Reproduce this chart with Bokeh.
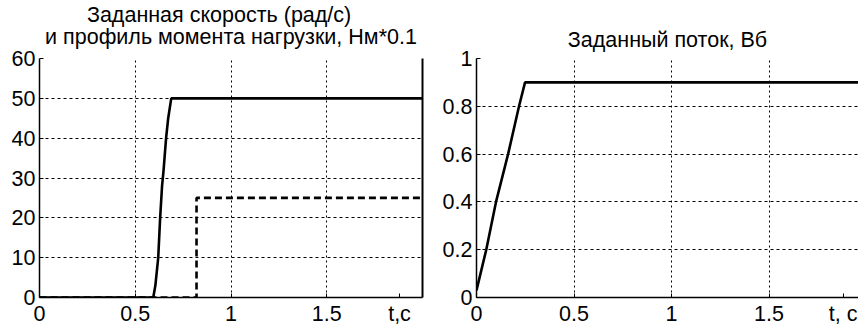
from bokeh.plotting import figure
from bokeh.layouts import row
from bokeh.models import FixedTicker, Range1d, Title, LinearAxis
from bokeh.embed import file_html
from bokeh.resources import INLINE

# ---- data ----
speed_t = [0.0, 0.594, 0.605, 0.62, 0.63, 0.64, 0.648, 0.661, 0.672, 0.688, 2.0]
speed_v = [0, 0, 3, 10, 20, 28, 32, 40, 45, 50, 50]
load_t = [0.0, 0.82, 0.82, 2.0]
load_v = [0, 0, 25, 25]
flux_t = [0.0, 0.05, 0.1, 0.162, 0.218, 0.249, 2.0]
flux_v = [0.03, 0.2, 0.4, 0.6, 0.8, 0.9, 0.9]

x_ticks = [0, 0.5, 1, 1.5]
x_labels = ["0", "0.5", "1", "1.5"]
left_y_ticks = [0, 10, 20, 30, 40, 50, 60]
right_y_ticks = [0, 0.2, 0.4, 0.6, 0.8, 1.0]
right_y_labels = ["0", "0.2", "0.4", "0.6", "0.8", "1"]

left_title = ["Заданная скорость (рад/с)", "и профиль момента нагрузки, Нм*0.1"]
right_title = "Заданный поток, Вб"
x_unit = "t,c"
x_unit_r = "t, c"
x_unit_pos = 1.88

FONT = "Liberation Sans"
FS = "21.5px"


def style(p, yticks, ylabels, unit):
    p.xaxis.ticker = FixedTicker(ticks=x_ticks + [x_unit_pos])
    ov = {t: l for t, l in zip(x_ticks, x_labels)}
    ov[x_unit_pos] = unit
    p.xaxis.major_label_overrides = ov
    p.yaxis.ticker = FixedTicker(ticks=yticks)
    p.yaxis.major_label_overrides = {t: l for t, l in zip(yticks, ylabels)}
    for ax in (p.xaxis[0], p.yaxis[0]):
        ax.major_label_text_font = FONT
        ax.major_label_text_font_size = FS
        ax.major_label_text_color = "black"
        ax.axis_line_color = "black"
        ax.axis_line_width = 1.5
        ax.major_tick_line_color = "black"
        ax.major_tick_in = 4
        ax.major_tick_out = 0
        ax.minor_tick_line_color = None
    p.xaxis.major_label_standoff = 4
    p.yaxis.major_label_standoff = 4
    p.xgrid.ticker = FixedTicker(ticks=[0.5, 1, 1.5])
    p.ygrid.ticker = FixedTicker(ticks=[t for t in yticks if t != 0])
    p.xgrid.grid_line_color = "black"
    p.xgrid.grid_line_dash = "2 3"
    p.xgrid.grid_line_width = 1
    p.ygrid.grid_line_color = "black"
    p.ygrid.grid_line_dash = "3 3"
    p.ygrid.grid_line_width = 1
    p.outline_line_color = None
    p.background_fill_color = "white"
    p.border_fill_color = "white"


def title(text, offset, line_height=1.0):
    return Title(text=text, align="center", offset=offset, standoff=0,
                 text_font=FONT, text_font_size=FS, text_font_style="normal",
                 text_color="black", text_line_height=line_height)


def spacer(size):
    return Title(text="\u00a0", standoff=0, text_font=FONT, text_font_size=size)


# ---- left ----
p1 = figure(width=430, height=328, output_backend="svg", toolbar_location=None,
            x_range=Range1d(0, 2), y_range=Range1d(0, 60),
            min_border_left=39, min_border_right=8, min_border_top=58, min_border_bottom=30)
p1.title = title("\u00a0" * 7 + left_title[0] + "\n" + left_title[1], -12, line_height=0.93)
p1.add_layout(spacer("7px"), "above")
style(p1, left_y_ticks, [str(v) for v in left_y_ticks], x_unit)
p1.line(speed_t, speed_v, line_color="black", line_width=2.6)
p1.line(load_t, load_v, line_color="black", line_width=2.6, line_dash="7 4")
p1.add_layout(LinearAxis(axis_line_color="black", axis_line_width=2,
                         major_tick_line_color=None, minor_tick_line_color=None,
                         major_label_text_font_size="0px",
                         ticker=FixedTicker(ticks=[])), "right")

# ---- right ----
p2 = figure(width=428, height=328, output_backend="svg", toolbar_location=None,
            x_range=Range1d(0, 382 / 195), y_range=Range1d(0, 1),
            min_border_left=46, min_border_right=0, min_border_top=58, min_border_bottom=30)
p2.title = title(right_title, -21)
p2.add_layout(spacer("4.5px"), "above")
style(p2, right_y_ticks, right_y_labels, x_unit_r)
p2.line(flux_t, flux_v, line_color="black", line_width=2.6)

layout = row(p1, p2)
open("out.html", "w").write(file_html(layout, INLINE))
